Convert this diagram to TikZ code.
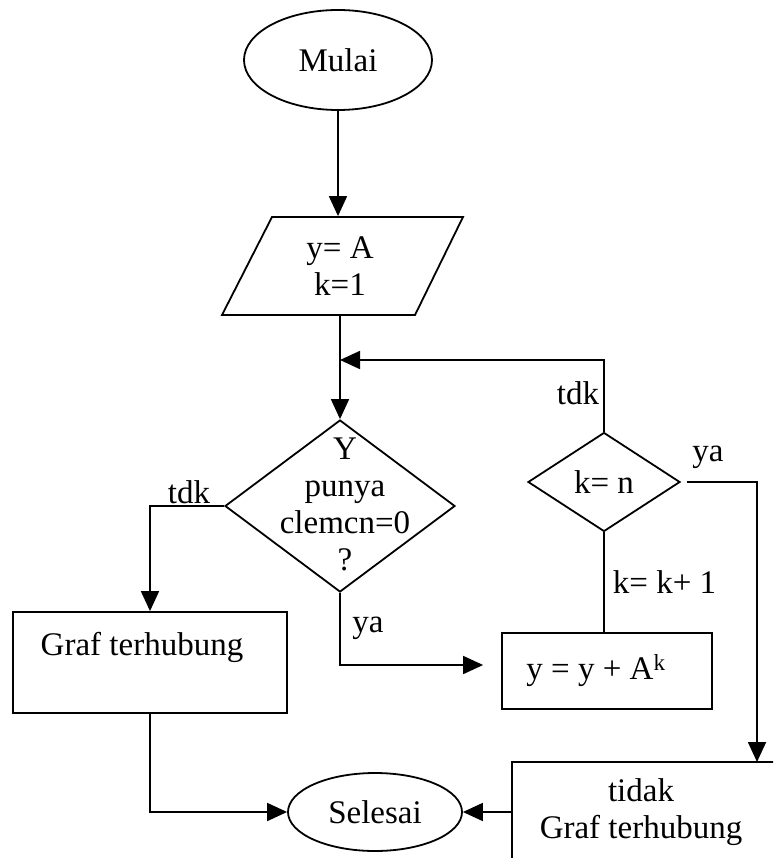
\documentclass[tikz,border=0pt]{standalone}
\usepackage{fontspec}
\setmainfont{Liberation Serif}
\usetikzlibrary{shapes.geometric,arrows.meta}
\begin{document}
\begin{tikzpicture}[x=1pt,y=-1pt,
  line width=1.8pt,
  every node/.style={font=\fontsize{33}{37}\selectfont, inner sep=0pt},
  arr/.style={-{Triangle[length=20pt,width=18pt]}},
  term/.style={draw, ellipse},
  dec/.style={draw, diamond},
  box/.style={draw, rectangle},
  txt/.style={align=center}]
\path[use as bounding box] (0,0) rectangle (773,858);
\clip (0,0) rectangle (773,858);

% nodes
\node[term, minimum width=188pt, minimum height=100pt] (start) at (338,60) {Mulai};
\draw (272,217) -- (463,217) -- (415,315) -- (222,315) -- cycle;
\node[txt, minimum height=98pt] (inp) at (340,266) {y= A\\k=1};
\node[dec, minimum width=230pt, minimum height=172pt] (dec1) at (340,506) {};
\node[txt] (dec1t) at (345,504) {Y\\punya\\clemcn=0\\?};
\node[box, minimum width=274pt, minimum height=101pt] (box1) at (150,662.5) {};
\node (box1t) at (142,647) {Graf terhubung};
\node[box, minimum width=210pt, minimum height=76pt] (box2) at (607,671) {};
\node (box2t) at (596,671) {y = y + A\textsuperscript{k}};
\node[dec, minimum width=152pt, minimum height=99pt] (dec2) at (604,482) {k= n};
\node[box, minimum width=288pt, minimum height=100pt] (box3) at (656,812) {};
\node[txt] (box3t) at (641,812) {tidak\\Graf terhubung};
\node[term, minimum width=174pt, minimum height=78pt] (end) at (375,812) {Selesai};
\coordinate (j) at (340,360);
\coordinate (c3) at (757,762);

% connectors
\draw[arr] (start.south) -- (start.south |- inp.north);
\draw[arr] (inp.south) -- (dec1.north);
\draw[arr] (dec2.north) |- (j);
\draw[arr] (dec1.west) -| (box1.north);
\draw[arr, shorten >=18pt] (dec1.south) |- ([yshift=6pt]box2.west);
\draw (dec2.south) -- (dec2.south |- box2.north);
\draw[arr] ([xshift=6pt]dec2.east) -| (c3);
\draw[arr] (box1.south) |- (end.west);
\draw[arr] (box3.west) -- (end.east);

% labels
\node[anchor=base] (l1) at (189,503) {tdk};
\node[anchor=base] (l2) at (368,632) {ya};
\node[anchor=base east] (l3) at (600,404) {tdk};
\node[anchor=base west] (l4) at (612,593) {k= k+ 1};
\node[anchor=base] (l5) at (708,461) {ya};
\end{tikzpicture}
\end{document}
